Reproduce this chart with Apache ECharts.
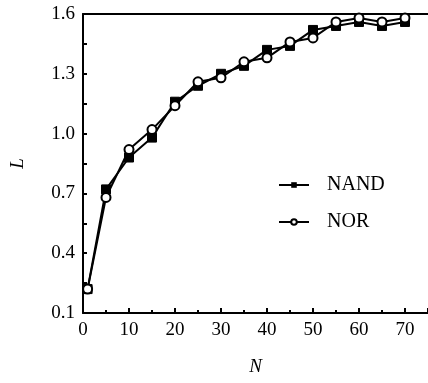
<!DOCTYPE html>
<html><head><meta charset="utf-8">
<script src="https://cdn.jsdelivr.net/npm/echarts@6/dist/echarts.min.js"></script>
<style>html,body{margin:0;padding:0;background:#fff}#c{width:428px;height:383px}</style>
</head><body><div id="c"></div>
<script>
const N = [1, 5, 10, 15, 20, 25, 30, 35, 40, 45, 50, 55, 60, 65, 70];
const nand = [0.22, 0.72, 0.88, 0.98, 1.16, 1.24, 1.30, 1.34, 1.42, 1.44, 1.52, 1.54, 1.56, 1.54, 1.56];
const nor  = [0.22, 0.68, 0.92, 1.02, 1.14, 1.26, 1.28, 1.36, 1.38, 1.46, 1.48, 1.56, 1.58, 1.56, 1.58];
const seriesNames = ['NAND', 'NOR'];
const xTitle = 'N', yTitle = 'L';

const font = 'Liberation Serif';
const chart = echarts.init(document.getElementById('c'), null, {renderer: 'canvas'});
const pair = (xs, ys) => xs.map((x, i) => [x, ys[i]]);
chart.setOption({
  animation: false,
  grid: {left: 81, top: 14, width: 349, height: 299},
  legend: {
    orient: 'vertical', left: 273, top: 170, padding: 5, itemWidth: 30, itemHeight: 7, itemGap: 17,
    textStyle: {fontFamily: font, fontSize: 20, color: '#000', padding: [0, 0, 0, 13]},
    data: seriesNames
  },
  xAxis: [{
    type: 'value', min: 0, max: 75, interval: 10,
    name: xTitle, nameLocation: 'middle', nameGap: 44,
    nameTextStyle: {fontFamily: font, fontStyle: 'italic', fontSize: 19, color: '#000'},
    axisLine: {lineStyle: {color: '#000', width: 2}},
    axisTick: {inside: true, length: 5, lineStyle: {color: '#000', width: 2}},
    minorTick: {show: true, splitNumber: 2, length: 3, lineStyle: {color: '#000', width: 2}},
    axisLabel: {fontFamily: font, fontSize: 19, color: '#000', margin: 8, showMaxLabel: false},
    splitLine: {show: false}
  }, {
    type: 'value', min: 0, max: 75, position: 'top',
    axisLine: {show: true, onZero: false, lineStyle: {color: '#000', width: 2}},
    axisTick: {show: false}, axisLabel: {show: false}, splitLine: {show: false}
  }],
  yAxis: {
    type: 'value', min: 0.1, max: 1.6, interval: 0.3,
    name: yTitle, nameLocation: 'middle', nameGap: 56, nameRotate: 90,
    nameTextStyle: {fontFamily: font, fontStyle: 'italic', fontSize: 19, color: '#000'},
    axisLine: {show: true, lineStyle: {color: '#000', width: 2}},
    axisTick: {show: true, inside: true, length: 4, lineStyle: {color: '#000', width: 2}},
    minorTick: {show: true, splitNumber: 2, length: 4, lineStyle: {color: '#000', width: 2}},
    axisLabel: {fontFamily: font, fontSize: 19, color: '#000', margin: 8, formatter: v => v.toFixed(1)},
    splitLine: {show: false}
  },
  series: [{
    name: seriesNames[0], type: 'line', data: pair(N, nand),
    symbol: 'rect', symbolSize: 9, lineStyle: {color: '#000', width: 2},
    itemStyle: {color: '#000', borderColor: '#000'}
  }, {
    name: seriesNames[1], type: 'line', data: pair(N, nor),
    symbol: 'circle', symbolSize: 9, lineStyle: {color: '#000', width: 2},
    itemStyle: {color: '#fff', borderColor: '#000', borderWidth: 2}
  }]
});
</script></body></html>
